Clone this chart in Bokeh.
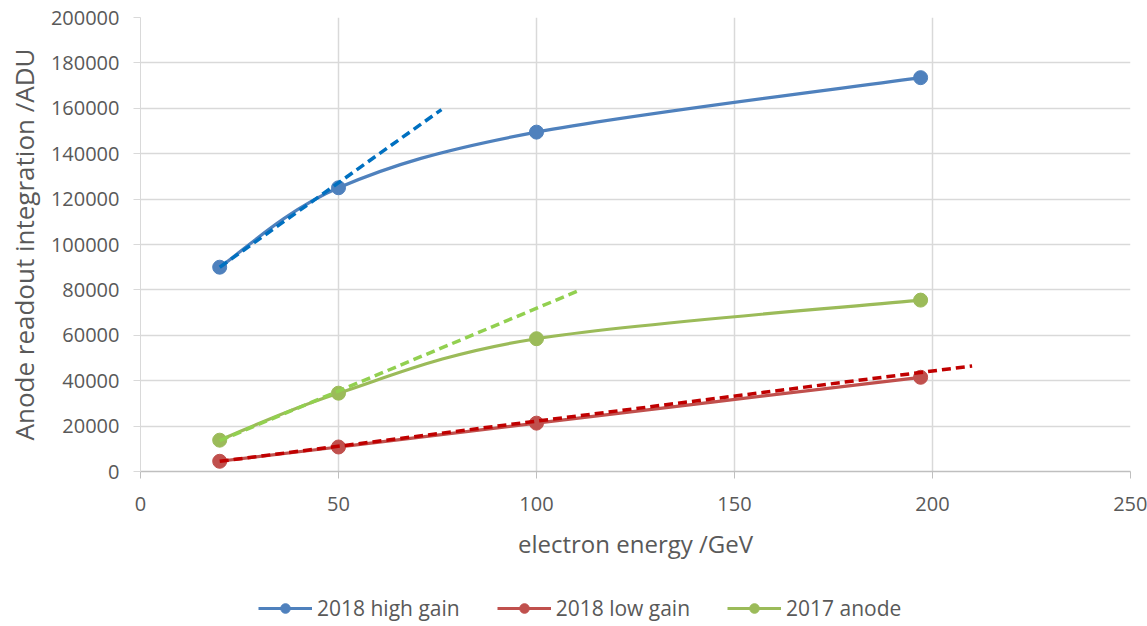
from bokeh.plotting import figure
from bokeh.models import Legend, LegendItem, FixedTicker, Range1d
from bokeh.layouts import column
from bokeh.embed import file_html
from bokeh.resources import INLINE

# ---- data ----
energy = [20, 50, 100, 197]
high_gain_2018 = [90000, 125000, 149500, 173500]
low_gain_2018 = [4500, 10800, 21300, 41500]
anode_2017 = [13800, 34500, 58500, 75500]

series_names = ["2018 high gain", "2018 low gain", "2017 anode"]
series_colors = ["#4F81BD", "#C0504D", "#9BBB59"]
trend_colors = ["#0070C0", "#C00000", "#92D050"]

# linear trend lines: slope, intercept, x extent
trend_slope = [1240, 221, 729]
trend_intercept = [65200, 80, -1000]
trend_x_start = [20, 20, 20]
trend_x_end = [76, 210, 111]

x_ticks = [0, 50, 100, 150, 200, 250]
y_ticks = [0, 20000, 40000, 60000, 80000, 100000, 120000, 140000, 160000, 180000, 200000]

FONT = "Open Sans"
TXT = "#595959"

p = figure(frame_width=990, frame_height=454, output_backend="svg", toolbar_location=None,
           x_range=Range1d(0, 250), y_range=Range1d(0, 200000),
           min_border_left=140, min_border_right=17, min_border_top=17, min_border_bottom=100)
p.outline_line_color = None
p.background_fill_color = "white"

p.xaxis.ticker = FixedTicker(ticks=x_ticks)
p.yaxis.ticker = FixedTicker(ticks=y_ticks)
p.xaxis.minor_tick_line_color = None
p.yaxis.minor_tick_line_color = None
p.yaxis.formatter.use_scientific = False
for ax in (p.xaxis, p.yaxis):
    ax.major_label_text_font = FONT
    ax.major_label_text_font_size = "20px"
    ax.major_label_text_color = TXT
    ax.axis_label_text_font = FONT
    ax.axis_label_text_font_size = "24px"
    ax.axis_label_text_color = TXT
    ax.axis_label_text_font_style = "normal"
    ax.major_tick_in = 0
    ax.major_tick_out = 7
p.yaxis.axis_label_text_font_size = "26px"
p.xaxis.major_label_standoff = 18
p.yaxis.major_label_standoff = 14
p.xaxis.axis_label_standoff = 13
p.yaxis.axis_label_standoff = 6
p.xaxis.axis_line_color = "#BFBFBF"
p.xaxis.major_tick_line_color = "#BFBFBF"
p.yaxis.axis_line_color = "#D9D9D9"
p.yaxis.major_tick_line_color = "#D9D9D9"
p.xaxis.axis_line_width = 1.5
p.xaxis.axis_label = "electron energy /GeV"
p.yaxis.axis_label = "Anode readout integration /ADU"
p.xgrid.grid_line_color = "#D9D9D9"
p.ygrid.grid_line_color = "#D9D9D9"
p.xgrid.grid_line_width = 1.5
p.ygrid.grid_line_width = 1.5

all_series = [high_gain_2018, low_gain_2018, anode_2017]


def smooth_segments(xs, ys):
    n = len(xs)
    out = {k: [] for k in ("x0", "y0", "x1", "y1", "cx0", "cy0", "cx1", "cy1")}
    for i in range(n - 1):
        im1 = max(i - 1, 0)
        ip2 = min(i + 2, n - 1)
        out["x0"].append(xs[i]); out["y0"].append(ys[i])
        out["x1"].append(xs[i + 1]); out["y1"].append(ys[i + 1])
        out["cx0"].append(xs[i] + (xs[i + 1] - xs[im1]) / 6)
        out["cy0"].append(ys[i] + (ys[i + 1] - ys[im1]) / 6)
        out["cx1"].append(xs[i + 1] - (xs[ip2] - xs[i]) / 6)
        out["cy1"].append(ys[i + 1] - (ys[ip2] - ys[i]) / 6)
    return out


for name, ys, col in zip(series_names, all_series, series_colors):
    seg = smooth_segments(energy, ys)
    p.bezier(line_color=col, line_width=3.2, **seg)
    p.scatter(energy, ys, size=14, fill_color=col, line_color=col)

for s, b, x0, x1, col in zip(trend_slope, trend_intercept, trend_x_start, trend_x_end, trend_colors):
    p.line([x0, x1], [s * x0 + b, s * x1 + b], line_color=col, line_width=3.5, line_dash="9 5")

# ---- legend strip below the chart (series drawn outside its ranges, only the legend shows) ----
lg = figure(width=1147, height=55, output_backend="svg", toolbar_location=None,
            x_range=Range1d(-2, -1), y_range=Range1d(-2, -1),
            x_axis_location=None, y_axis_location=None,
            min_border_left=0, min_border_right=0, min_border_top=0, min_border_bottom=0)
lg.grid.visible = False
lg.outline_line_color = None

leg_items = []
for name, ys, col in zip(series_names, all_series, series_colors):
    lr = lg.line(energy, ys, line_color=col, line_width=3.2)
    sr = lg.scatter(energy, ys, size=14, fill_color=col, line_color=col)
    leg_items.append(LegendItem(label=name, renderers=[lr, sr]))

legend = Legend(items=leg_items, orientation="horizontal", location=(118, 4),
                label_text_font=FONT, label_text_font_size="21px", label_text_color=TXT,
                glyph_width=54, glyph_height=24, label_height=24, label_standoff=5, spacing=37,
                border_line_color=None, background_fill_alpha=0, margin=0, padding=0)
lg.add_layout(legend)

layout = column(p, lg, spacing=0)
open("out.html", "w").write(file_html(layout, INLINE))
